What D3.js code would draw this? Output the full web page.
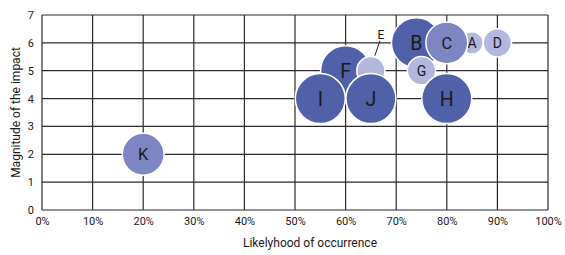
<!DOCTYPE html>
<html>
<head>
<meta charset="utf-8">
<script src="https://cdn.jsdelivr.net/npm/d3@7"></script>
<style>
  body { margin: 0; background: #fff; }
  text { font-family: Roboto, "DejaVu Sans", sans-serif; fill: #1a1a1a; }
</style>
</head>
<body>
<svg id="chart" width="565" height="255"></svg>
<script>
// risk data
var risks = ["A", "B", "C", "D", "E", "F", "G", "H", "I", "J", "K"];
var likelyhood = [0.85, 0.74, 0.80, 0.90, 0.65, 0.60, 0.75, 0.80, 0.55, 0.65, 0.20];
var impact = [6, 6, 6, 6, 5, 5, 5, 4, 4, 4, 2];
var weight = [1, 5, 3.5, 1.6, 1.6, 5, 1.6, 5, 5, 5, 3.5];
var shade = ["light", "dark", "mid", "light", "light", "dark", "light", "dark", "dark", "dark", "mid"];
// draw order so overlaps look like the original
var drawOrder = ["K", "F", "E", "I", "J", "B", "G", "H", "A", "C", "D"];

var xTicks = [0, 0.1, 0.2, 0.3, 0.4, 0.5, 0.6, 0.7, 0.8, 0.9, 1];
var yTicks = [0, 1, 2, 3, 4, 5, 6, 7];

var colors = { dark: "#5060a9", mid: "#7d85c3", light: "#b3b7de" };

var svg = d3.select("#chart");
var margin = { left: 42, right: 17, top: 15, bottom: 45 };
var w = 565 - margin.left - margin.right;
var h = 255 - margin.top - margin.bottom;

var x = d3.scaleLinear().domain([0, 1]).range([margin.left, margin.left + w]);
var y = d3.scaleLinear().domain([0, 7]).range([margin.top + h, margin.top]);
var r = d3.scaleSqrt().domain([0, 5]).range([0, 25]);

var g = svg.append("g");

// grid
g.selectAll(".vline").data(xTicks).enter().append("line")
    .attr("x1", function(d){ return x(d); })
    .attr("x2", function(d){ return x(d); })
    .attr("y1", y(0)).attr("y2", y(7))
    .attr("stroke", "#2b2b2b").attr("stroke-width", 1.2);

g.selectAll(".hline").data(yTicks).enter().append("line")
    .attr("x1", x(0)).attr("x2", x(1))
    .attr("y1", function(d){ return y(d); })
    .attr("y2", function(d){ return y(d); })
    .attr("stroke", "#2b2b2b").attr("stroke-width", 1.2);

// axes
var xAxis = d3.axisBottom(x).tickValues(xTicks).tickSize(0).tickPadding(7)
    .tickFormat(d3.format(".0%"));
var yAxis = d3.axisLeft(y).tickValues(yTicks).tickSize(0).tickPadding(8)
    .tickFormat(d3.format("d"));

var gx = svg.append("g").attr("transform", "translate(0," + y(0) + ")").call(xAxis);
var gy = svg.append("g").attr("transform", "translate(" + x(0) + ",0)").call(yAxis);
[gx, gy].forEach(function(a){
    a.select(".domain").remove();
    a.selectAll("text").style("font-size", "11px").attr("fill", "#1a1a1a");
});

svg.append("text")
    .attr("x", 310).attr("y", 247)
    .attr("text-anchor", "middle")
    .style("font-size", "12px")
    .text("Likelyhood of occurrence");

svg.append("text")
    .attr("transform", "translate(20," + (margin.top + h / 2) + ") rotate(-90)")
    .attr("text-anchor", "middle")
    .style("font-size", "12px")
    .text("Magnitude of the impact");

// bubbles
var data = risks.map(function(name, i){
    return { name: name, x: likelyhood[i], y: impact[i], w: weight[i], c: shade[i] };
});
data.sort(function(a, b){ return drawOrder.indexOf(a.name) - drawOrder.indexOf(b.name); });

var bubbles = g.selectAll(".bubble").data(data).enter().append("g")
    .attr("transform", function(d){ return "translate(" + x(d.x) + "," + y(d.y) + ")"; });

bubbles.append("circle")
    .attr("r", function(d){ return r(d.w); })
    .attr("fill", function(d){ return colors[d.c]; })
    .attr("stroke", "#fff").attr("stroke-width", 1.5);

bubbles.filter(function(d){ return d.name != "E"; }).append("text")
    .attr("text-anchor", "middle")
    .attr("dy", "0.36em")
    .style("font-size", function(d){ return Math.max(14, r(d.w) * 0.78) + "px"; })
    .text(function(d){ return d.name; });

// E label sits outside its bubble with a leader line
var e = data.find(function(d){ return d.name == "E"; });
g.append("line")
    .attr("x1", x(e.x) + 4).attr("y1", y(e.y) - 15)
    .attr("x2", x(e.x) + 9).attr("y2", y(e.y) - 30)
    .attr("stroke", "#1a1a1a").attr("stroke-width", 1);
g.append("text")
    .attr("x", x(e.x) + 10).attr("y", y(e.y) - 32)
    .attr("text-anchor", "middle")
    .style("font-size", "12px")
    .text("E");
</script>
</body>
</html>
